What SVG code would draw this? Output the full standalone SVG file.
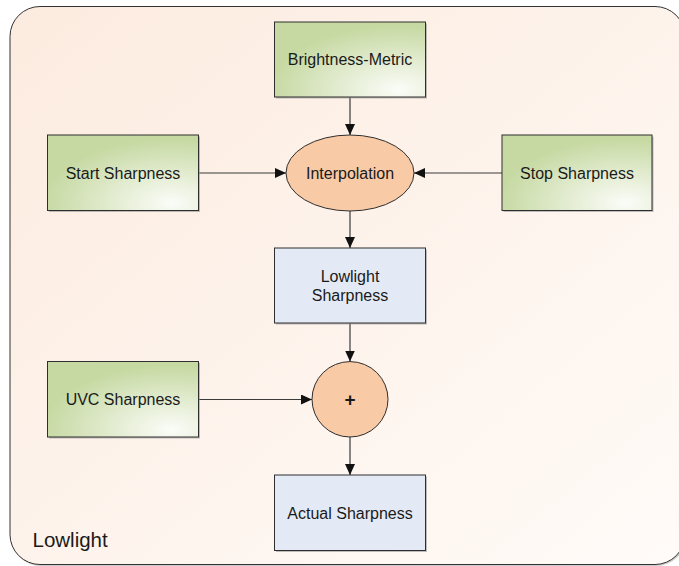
<svg xmlns="http://www.w3.org/2000/svg" width="679" height="566" viewBox="0 0 679 566">
<style>
.box{stroke:#2e2e2e;stroke-width:1}
.shadow{fill:#8a8a8a;opacity:0.55}
.lbl{font-family:"Liberation Sans",Arial,sans-serif;font-size:16px;fill:#1a1a1a;text-anchor:middle}
.conn{stroke:#3a3a3a;stroke-width:1.2;fill:none;marker-end:url(#arr)}
</style>
<defs>
<linearGradient id="bg" x1="0" y1="0" x2="1" y2="1">
<stop offset="0" stop-color="#fcebdf"/>
<stop offset="1" stop-color="#fffbf8"/>
</linearGradient>
<radialGradient id="green" cx="0.82" cy="0.9" r="0.85" fx="0.82" fy="0.9">
<stop offset="0" stop-color="#fbfcf8"/>
<stop offset="1" stop-color="#c6d9a2"/>
</radialGradient>
<marker id="arr" markerUnits="userSpaceOnUse" markerWidth="11" markerHeight="10" refX="11" refY="5" orient="auto">
<path d="M0,0 L11,5 L0,10 z" fill="#111"/>
</marker>
</defs>
<g id="container">
<rect x="11" y="7.5" width="675" height="558.5" rx="30" ry="30" fill="#9a9a9a" opacity="0.5"/>
<rect x="10" y="6.5" width="675" height="558" rx="30" ry="30" fill="url(#bg)" stroke="#333" stroke-width="1"/>
<text x="32.5" y="546.5" style="font-family:'Liberation Sans',Arial,sans-serif;font-size:20.5px;fill:#1a1a1a">Lowlight</text>
</g>
<g id="connectors">
<line class="conn" x1="350" y1="97.5" x2="350" y2="135"/>
<line class="conn" x1="199" y1="173" x2="286" y2="173"/>
<line class="conn" x1="502" y1="173" x2="414" y2="173"/>
<line class="conn" x1="350" y1="211" x2="350" y2="248"/>
<line class="conn" x1="350" y1="323.5" x2="350" y2="361.5"/>
<line class="conn" x1="199" y1="399.5" x2="312" y2="399.5"/>
<line class="conn" x1="350" y1="437" x2="350" y2="475"/>
</g>
<g id="brightness-metric">
<rect class="shadow" x="276" y="23.5" width="151" height="75"/>
<rect class="box" x="274.5" y="22" width="151" height="75" fill="url(#green)"/>
<text class="lbl" x="350" y="65">Brightness-Metric</text>
</g>
<g id="start-sharpness">
<rect class="shadow" x="49" y="136.5" width="151" height="75.5"/>
<rect class="box" x="47.5" y="135" width="151" height="75.5" fill="url(#green)"/>
<text class="lbl" x="123" y="178.5">Start Sharpness</text>
</g>
<g id="stop-sharpness">
<rect class="shadow" x="503.5" y="136.5" width="150" height="75.5"/>
<rect class="box" x="502" y="135" width="150" height="75.5" fill="url(#green)"/>
<text class="lbl" x="577" y="178.5">Stop Sharpness</text>
</g>
<g id="interpolation">
<ellipse cx="350" cy="173" rx="64" ry="38" fill="#f9caa6" stroke="#2e2e2e" stroke-width="1"/>
<text class="lbl" x="350" y="178.5">Interpolation</text>
</g>
<g id="lowlight-sharpness">
<rect class="shadow" x="276" y="249.5" width="151" height="75"/>
<rect class="box" x="274.5" y="248" width="151" height="75" fill="#e4eaf5"/>
<text class="lbl" x="350" y="281.5">Lowlight</text>
<text class="lbl" x="350" y="300.5">Sharpness</text>
</g>
<g id="uvc-sharpness">
<rect class="shadow" x="49" y="363" width="151" height="75.5"/>
<rect class="box" x="47.5" y="361.5" width="151" height="75.5" fill="url(#green)"/>
<text class="lbl" x="123" y="405">UVC Sharpness</text>
</g>
<g id="plus">
<ellipse cx="350" cy="399.3" rx="38" ry="37.7" fill="#f9caa6" stroke="#2e2e2e" stroke-width="1"/>
<text class="lbl" x="350" y="406" style="font-size:19px;font-weight:bold">+</text>
</g>
<g id="actual-sharpness">
<rect class="shadow" x="276" y="476.5" width="151" height="75.5"/>
<rect class="box" x="274.5" y="475" width="151" height="75.5" fill="#e4eaf5"/>
<text class="lbl" x="350" y="518.5">Actual Sharpness</text>
</g>
</svg>
